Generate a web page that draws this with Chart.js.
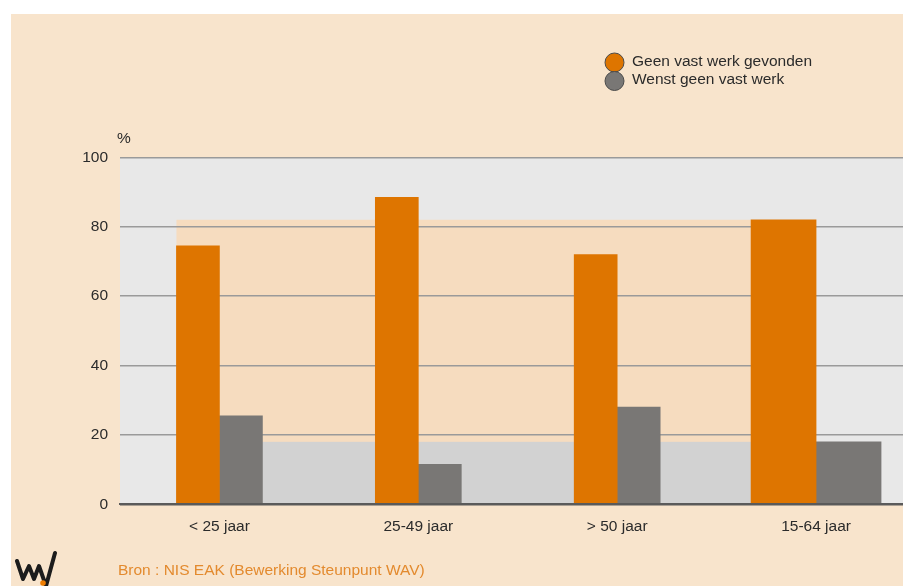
<!DOCTYPE html>
<html>
<head>
<meta charset="utf-8">
<script src="https://cdn.jsdelivr.net/npm/chart.js@4.4.1/dist/chart.umd.min.js"></script>
<style>
    html, body {
        margin: 0;
        padding: 0;
        background: #ffffff;
        overflow: hidden;
    }
    #wrap {
        position: absolute;
        left: 11px;
        top: 14px;
        width: 910px;
        height: 572px;
        background: #f8e4cc;
    }
</style>
</head>
<body>
<div id="wrap">
    <canvas id="vastWerkChart" width="910" height="572"></canvas>
</div>
<script>
// Leeftijdsgroepen en aandelen (%)
const categories = ['< 25 jaar', '25-49 jaar', '> 50 jaar', '15-64 jaar'];
const geenVastWerkGevonden = [74.5, 88.5, 72, 82];
const wenstGeenVastWerk = [25.5, 11.5, 28, 18];
const yTicks = [0, 20, 40, 60, 80, 100];
const seriesLabels = ['Geen vast werk gevonden', 'Wenst geen vast werk'];
const sourceText = 'Bron : NIS EAK (Bewerking Steunpunt WAV)';

const colorOrange = '#de7500';
const colorGrey = '#797775';
const colorPlotBg = '#e8e8e8';
const colorBandOrange = '#f6dcbf';
const colorBandGrey = '#d2d2d2';
const colorText = '#2b2b2b';
const fontFamily = '"Liberation Sans", Arial, Helvetica, sans-serif';
const fontSize = 15.5;

const totalIndex = categories.length - 1;

// The last group (15-64 jaar) is the total and uses wider bars
const onlyGroups = arr => arr.map((v, i) => (i < totalIndex ? v : null));
const onlyTotal = arr => arr.map((v, i) => (i === totalIndex ? v : null));

// Plot background plus the reference bands of the total behind the bars
const bandPlugin = {
    id: 'bands',
    beforeDraw(chart) {
        const { ctx, chartArea: area, scales: { y } } = chart;
        const first = chart.getDatasetMeta(0).data[0];
        const last = chart.getDatasetMeta(2).data[totalIndex];
        const x0 = first.x - first.width / 2;
        const x1 = last.x - last.width / 2;
        const yZero = y.getPixelForValue(0);

        ctx.save();
        ctx.fillStyle = colorPlotBg;
        ctx.fillRect(area.left, area.top, area.right - area.left, area.bottom - area.top);

        const yOrange = y.getPixelForValue(geenVastWerkGevonden[totalIndex]);
        ctx.fillStyle = colorBandOrange;
        ctx.fillRect(x0, yOrange, x1 - x0, yZero - yOrange);

        const yGrey = y.getPixelForValue(wenstGeenVastWerk[totalIndex]);
        ctx.fillStyle = colorBandGrey;
        ctx.fillRect(x0, yGrey, x1 - x0, yZero - yGrey);
        ctx.restore();
    }
};

// Legend, unit label, source line and logo
const decorPlugin = {
    id: 'decor',
    afterDraw(chart) {
        const { ctx, chartArea: area } = chart;
        ctx.save();

        const legendColors = [colorOrange, colorGrey];
        const legendY = [48.5, 67];
        seriesLabels.forEach((label, i) => {
            ctx.beginPath();
            ctx.arc(603.5, legendY[i], 9.5, 0, Math.PI * 2);
            ctx.fillStyle = legendColors[i];
            ctx.fill();
            ctx.lineWidth = 1;
            ctx.strokeStyle = '#4a4a4a';
            ctx.stroke();
        });
        ctx.font = fontSize + 'px ' + fontFamily;
        ctx.fillStyle = colorText;
        ctx.textBaseline = 'middle';
        ctx.textAlign = 'left';
        ctx.fillText(seriesLabels[0], 621, 47.5);
        ctx.fillText(seriesLabels[1], 621, 66);

        ctx.fillText('%', area.left - 3, area.top - 19);

        ctx.fillStyle = '#e38a2e';
        ctx.fillText(sourceText, 107, 556.5);

        // logo
        ctx.beginPath();
        ctx.moveTo(6, 547);
        ctx.lineTo(12, 565);
        ctx.lineTo(18, 552);
        ctx.lineTo(23, 565);
        ctx.lineTo(28, 552);
        ctx.lineTo(35, 572);
        ctx.lineTo(44, 539);
        ctx.lineWidth = 4;
        ctx.lineJoin = 'round';
        ctx.lineCap = 'round';
        ctx.strokeStyle = '#1c1c1c';
        ctx.stroke();
        ctx.beginPath();
        ctx.arc(32, 569, 2.8, 0, Math.PI * 2);
        ctx.fillStyle = '#ef7d00';
        ctx.fill();

        ctx.restore();
    }
};

new Chart(document.getElementById('vastWerkChart'), {
    type: 'bar',
    data: {
        labels: categories,
        datasets: [
            {
                label: seriesLabels[0],
                data: onlyGroups(geenVastWerkGevonden),
                backgroundColor: colorOrange,
                barThickness: 43,
                skipNull: true
            },
            {
                label: seriesLabels[1],
                data: onlyGroups(wenstGeenVastWerk),
                backgroundColor: colorGrey,
                barThickness: 43,
                skipNull: true
            },
            {
                label: seriesLabels[0],
                data: onlyTotal(geenVastWerkGevonden),
                backgroundColor: colorOrange,
                barThickness: 65,
                skipNull: true
            },
            {
                label: seriesLabels[1],
                data: onlyTotal(wenstGeenVastWerk),
                backgroundColor: colorGrey,
                barThickness: 65,
                skipNull: true
            }
        ]
    },
    options: {
        responsive: false,
        animation: false,
        layout: {
            padding: { top: 143.3, right: 5.5, left: 0, bottom: 0 }
        },
        plugins: {
            legend: { display: false },
            tooltip: { enabled: false }
        },
        scales: {
            x: {
                grid: { display: false, drawTicks: false },
                border: { color: '#5a5a5a', width: 2, z: 1 },
                ticks: {
                    color: colorText,
                    padding: 13,
                    font: { family: fontFamily, size: fontSize }
                },
                afterFit(scale) {
                    scale.height = 81.7;
                }
            },
            y: {
                min: 0,
                max: 100,
                afterBuildTicks(scale) {
                    scale.ticks = yTicks.map(v => ({ value: v }));
                },
                grid: {
                    drawTicks: false,
                    lineWidth: 1.5,
                    color: ctx => (ctx.tick && ctx.tick.value === 0 ? '#5a5a5a' : '#9a9a9a')
                },
                border: { display: false },
                ticks: {
                    color: colorText,
                    padding: 12,
                    font: { family: fontFamily, size: fontSize }
                },
                afterFit(scale) {
                    scale.width = 109;
                }
            }
        }
    },
    plugins: [bandPlugin, decorPlugin]
});
</script>
</body>
</html>
